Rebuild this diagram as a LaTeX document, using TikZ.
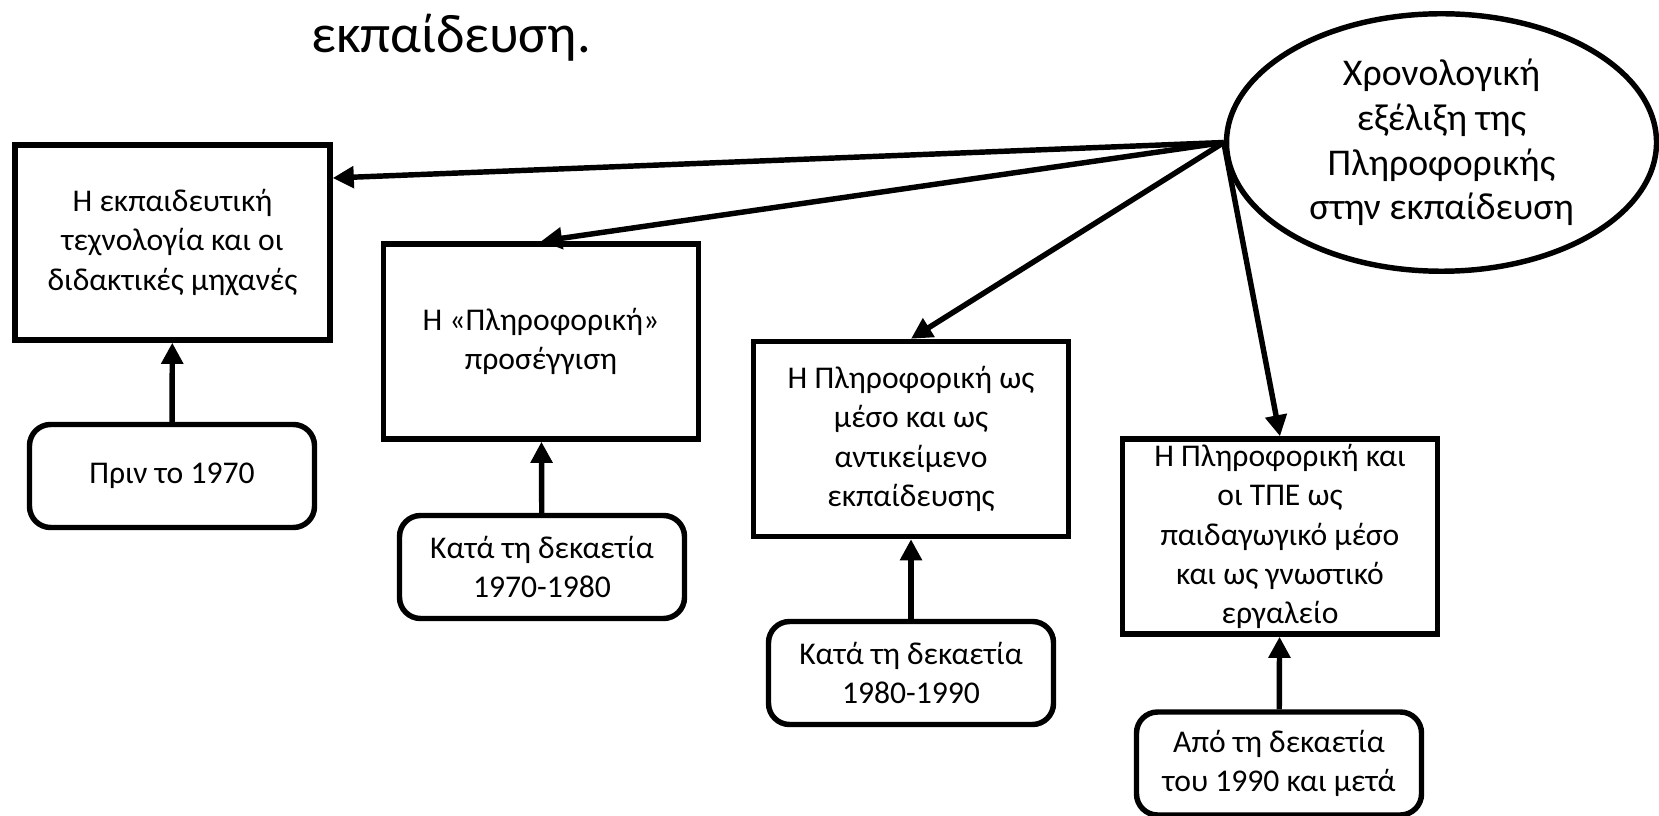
\documentclass[tikz,border=0pt]{standalone}
\usepackage{fontspec}
\setmainfont{Carlito}
\usetikzlibrary{positioning}
\usetikzlibrary{shapes.geometric}
\usetikzlibrary{arrows.meta}

\tikzset{
  topic/.style={draw, line width=3.1pt, minimum width=6.3cm, minimum height=3.9cm,
    inner sep=0pt, align=center, font=\fontsize{18pt}{22.3pt}\selectfont},
  period/.style={draw, line width=3.1pt, rounded corners=12pt, minimum width=5.7cm,
    minimum height=2.06cm, inner sep=0pt, align=center, font=\fontsize{18pt}{22.3pt}\selectfont},
  hub/.style={draw, ellipse, line width=3.1pt, minimum width=8.6cm, minimum height=5.15cm,
    inner sep=0pt, align=center, font=\fontsize{21.5pt}{25.5pt}\selectfont},
  link/.style={line width=3.1pt, -{Triangle[length=12pt,width=12pt]}}
}

\begin{document}
\begin{tikzpicture}
\useasboundingbox (0,0) rectangle (33.18,-16.32);
\node[anchor=base west, font=\fontsize{31pt}{37pt}\selectfont] (title) at (6.1,-1.06) {εκπαίδευση.};
\node[hub] (hub) at (28.83,-2.85) {Χρονολογική\\εξέλιξη της\\Πληροφορικής\\στην εκπαίδευση};
% the four stages
\node[topic] (machines) at (3.45,-4.85) {Η εκπαιδευτική\\τεχνολογία και οι\\διδακτικές μηχανές};
\node[topic] (informatics) at (10.82,-6.83) {Η «Πληροφορική»\\προσέγγιση};
\node[topic] (medium) at (18.22,-8.78) {Η Πληροφορική ως\\μέσο και ως\\αντικείμενο\\εκπαίδευσης};
\node[topic] (tool) at (25.6,-10.73) {Η Πληροφορική και\\οι ΤΠΕ ως\\παιδαγωγικό μέσο\\και ως γνωστικό\\εργαλείο};
% the periods
\node[period] (before70) at (3.44,-9.52) {Πριν το 1970};
\node[period] (dec70) at (10.84,-11.34) {Κατά τη δεκαετία\\1970-1980};
\node[period] (dec80) at (18.22,-13.46) {Κατά τη δεκαετία\\1980-1990};
\node[period] (dec90) at (25.58,-15.27) {Από τη δεκαετία\\του 1990 και μετά};
\draw[link] (hub.west) -- ([yshift=1.29cm]machines.east);
\draw[link] (hub.west) -- (informatics.north);
\draw[link] (hub.west) -- (medium.north);
\draw[link] (hub.west) -- (tool.north);
\draw[link] (before70) -- (machines);
\draw[link] (dec70) -- (informatics);
\draw[link] (dec80) -- (medium);
\draw[link] (dec90) -- (tool);
\end{tikzpicture}
\end{document}
